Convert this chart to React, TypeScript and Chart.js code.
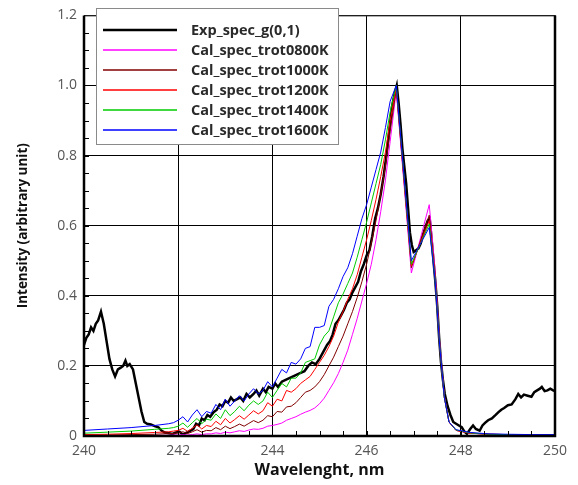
import React, { useEffect, useRef } from "react";
import { Chart, registerables } from "chart.js";

Chart.register(...registerables);

const expX = [240.0, 240.05, 240.1, 240.15, 240.2, 240.25, 240.3, 240.36, 240.42, 240.48, 240.54, 240.6, 240.66, 240.72, 240.78, 240.83, 240.88, 240.92, 240.97, 241.04, 241.1, 241.16, 241.22, 241.28, 241.34, 241.42, 241.5, 241.58, 241.65, 241.72, 241.8, 241.88, 241.95, 242.03, 242.1, 242.18, 242.26, 242.32, 242.38, 242.44, 242.5, 242.56, 242.62, 242.68, 242.75, 242.82, 242.88, 242.94, 243.0, 243.06, 243.12, 243.18, 243.25, 243.32, 243.38, 243.45, 243.52, 243.6, 243.66, 243.72, 243.8, 243.86, 243.92, 244.0, 244.06, 244.12, 244.2, 244.28, 244.36, 244.44, 244.52, 244.6, 244.68, 244.76, 244.84, 244.92, 245.0, 245.08, 245.16, 245.22, 245.28, 245.34, 245.4, 245.46, 245.52, 245.58, 245.64, 245.7, 245.76, 245.82, 245.88, 245.94, 246.0, 246.06, 246.12, 246.18, 246.24, 246.3, 246.36, 246.42, 246.48, 246.54, 246.6, 246.64, 246.68, 246.72, 246.76, 246.8, 246.84, 246.88, 246.92, 246.96, 247.0, 247.05, 247.1, 247.15, 247.2, 247.26, 247.3, 247.34, 247.38, 247.42, 247.46, 247.5, 247.54, 247.58, 247.62, 247.66, 247.72, 247.78, 247.84, 247.9, 247.96, 248.02, 248.08, 248.13, 248.2, 248.26, 248.32, 248.4, 248.46, 248.52, 248.58, 248.66, 248.74, 248.8, 248.86, 248.92, 249.0, 249.08, 249.16, 249.22, 249.28, 249.34, 249.42, 249.5, 249.56, 249.62, 249.68, 249.72, 249.78, 249.84, 249.9, 249.96, 250.0];
const expY = [0.26, 0.28, 0.29, 0.31, 0.3, 0.32, 0.33, 0.355, 0.32, 0.27, 0.22, 0.19, 0.17, 0.19, 0.195, 0.2, 0.215, 0.2, 0.205, 0.19, 0.15, 0.11, 0.07, 0.04, 0.035, 0.033, 0.028, 0.025, 0.015, 0.01, 0.008, 0.006, 0.01, 0.012, 0.004, 0.01, 0.015, 0.02, 0.035, 0.03, 0.05, 0.045, 0.06, 0.055, 0.068, 0.075, 0.09, 0.085, 0.1, 0.095, 0.11, 0.1, 0.105, 0.11, 0.1, 0.12, 0.11, 0.12, 0.13, 0.115, 0.135, 0.125, 0.14, 0.135, 0.15, 0.14, 0.155, 0.16, 0.165, 0.17, 0.175, 0.18, 0.185, 0.2, 0.21, 0.205, 0.22, 0.24, 0.26, 0.27, 0.29, 0.32, 0.33, 0.345, 0.36, 0.38, 0.39, 0.41, 0.425, 0.44, 0.47, 0.49, 0.515, 0.53, 0.57, 0.62, 0.65, 0.69, 0.74, 0.8, 0.87, 0.94, 0.98, 1.0, 0.95, 0.89, 0.82, 0.77, 0.72, 0.65, 0.58, 0.545, 0.525, 0.53, 0.535, 0.55, 0.575, 0.6, 0.615, 0.62, 0.56, 0.5, 0.44, 0.37, 0.28, 0.21, 0.16, 0.12, 0.085, 0.06, 0.04, 0.035, 0.03, 0.025, 0.012, 0.006, 0.02, 0.03, 0.02, 0.015, 0.03, 0.038, 0.045, 0.05, 0.06, 0.068, 0.075, 0.08, 0.088, 0.09, 0.105, 0.12, 0.11, 0.118, 0.115, 0.112, 0.125, 0.13, 0.135, 0.14, 0.128, 0.13, 0.135, 0.13, 0.128];

const calX = [240.0, 240.5, 241.0, 241.5, 241.8, 241.9, 242.0, 242.1, 242.2, 242.3, 242.4, 242.5, 242.6, 242.7, 242.8, 242.9, 243.0, 243.1, 243.2, 243.3, 243.4, 243.5, 243.6, 243.7, 243.8, 243.9, 244.0, 244.1, 244.2, 244.3, 244.4, 244.5, 244.6, 244.7, 244.8, 244.9, 245.0, 245.1, 245.2, 245.3, 245.4, 245.5, 245.6, 245.7, 245.8, 245.9, 246.0, 246.1, 246.2, 246.3, 246.4, 246.5, 246.63, 246.95, 247.33, 247.45, 247.55, 247.65, 247.75, 247.9, 248.2, 248.6, 249.0, 249.5, 250.0];

const cal0800 = [0.0, 0.001, 0.001, 0.002, 0.002, 0.003, 0.003, 0.004, 0.003, 0.004, 0.006, 0.004, 0.006, 0.006, 0.009, 0.007, 0.011, 0.009, 0.012, 0.015, 0.013, 0.017, 0.02, 0.019, 0.022, 0.028, 0.03, 0.033, 0.037, 0.045, 0.05, 0.055, 0.062, 0.068, 0.073, 0.08, 0.092, 0.108, 0.13, 0.152, 0.178, 0.21, 0.245, 0.29, 0.335, 0.385, 0.435, 0.49, 0.56, 0.64, 0.73, 0.84, 0.985, 0.465, 0.66, 0.48, 0.27, 0.115, 0.04, 0.016, 0.008, 0.005, 0.004, 0.003, 0.003];
const cal1000 = [0.002, 0.003, 0.004, 0.005, 0.007, 0.007, 0.009, 0.012, 0.007, 0.012, 0.018, 0.011, 0.016, 0.015, 0.024, 0.018, 0.028, 0.021, 0.027, 0.034, 0.028, 0.036, 0.044, 0.038, 0.045, 0.058, 0.055, 0.07, 0.068, 0.083, 0.085, 0.095, 0.11, 0.125, 0.13, 0.14, 0.155, 0.175, 0.2, 0.225, 0.255, 0.285, 0.32, 0.355, 0.395, 0.44, 0.49, 0.55, 0.615, 0.69, 0.77, 0.87, 0.99, 0.48, 0.63, 0.465, 0.26, 0.11, 0.04, 0.016, 0.008, 0.005, 0.004, 0.003, 0.003];
const cal1200 = [0.004, 0.005, 0.007, 0.01, 0.012, 0.014, 0.016, 0.022, 0.013, 0.022, 0.032, 0.02, 0.03, 0.027, 0.042, 0.032, 0.05, 0.037, 0.047, 0.058, 0.048, 0.06, 0.072, 0.063, 0.072, 0.095, 0.085, 0.105, 0.1, 0.13, 0.125, 0.135, 0.15, 0.16, 0.17, 0.19, 0.21, 0.23, 0.255, 0.285, 0.325, 0.355, 0.39, 0.42, 0.46, 0.51, 0.56, 0.615, 0.675, 0.74, 0.81, 0.9, 0.995, 0.485, 0.615, 0.46, 0.26, 0.11, 0.04, 0.016, 0.008, 0.005, 0.004, 0.003, 0.003];
const cal1400 = [0.008, 0.011, 0.014, 0.019, 0.022, 0.024, 0.028, 0.037, 0.025, 0.038, 0.05, 0.035, 0.048, 0.045, 0.063, 0.05, 0.075, 0.058, 0.07, 0.085, 0.072, 0.088, 0.1, 0.09, 0.1, 0.125, 0.11, 0.13, 0.15, 0.14, 0.165, 0.165, 0.18, 0.21, 0.215, 0.22, 0.26, 0.285, 0.3, 0.34, 0.38, 0.405, 0.435, 0.465, 0.51, 0.56, 0.61, 0.665, 0.72, 0.775, 0.845, 0.925, 1.0, 0.49, 0.605, 0.455, 0.26, 0.11, 0.04, 0.017, 0.009, 0.005, 0.004, 0.003, 0.003];
const cal1600 = [0.016, 0.02, 0.024, 0.03, 0.035, 0.038, 0.045, 0.055, 0.04, 0.06, 0.075, 0.055, 0.07, 0.065, 0.09, 0.075, 0.105, 0.085, 0.1, 0.115, 0.1, 0.12, 0.135, 0.12, 0.13, 0.155, 0.14, 0.165, 0.19, 0.18, 0.21, 0.205, 0.22, 0.25, 0.255, 0.31, 0.31, 0.315, 0.37, 0.39, 0.42, 0.455, 0.48, 0.52, 0.57, 0.62, 0.66, 0.71, 0.76, 0.81, 0.88, 0.955, 1.0, 0.5, 0.595, 0.45, 0.26, 0.11, 0.04, 0.018, 0.01, 0.006, 0.005, 0.004, 0.004];

const seriesLabels = ["Exp_spec_g(0,1)", "Cal_spec_trot0800K", "Cal_spec_trot1000K", "Cal_spec_trot1200K", "Cal_spec_trot1400K", "Cal_spec_trot1600K"];
const seriesColors = ["#000000", "#ff00ff", "#800000", "#ff0000", "#00cc00", "#0000ff"];
const xTickValues = [240, 242, 244, 246, 248, 250];

const toPoints = (xs: number[], ys: number[]) => xs.map((x, i) => ({ x, y: ys[i] }));

const framePlugin = {
  id: "frame",
  afterDraw(chart: any) {
    const { ctx, chartArea, scales } = chart;
    const { left, right, top, bottom } = chartArea;
    ctx.save();
    ctx.strokeStyle = "#000";
    ctx.lineWidth = 1;
    ctx.beginPath();
    for (let v = 240; v <= 250.001; v += 0.5) {
      const px = Math.round(scales.x.getPixelForValue(v)) + 0.5;
      ctx.moveTo(px, bottom);
      ctx.lineTo(px, bottom - 5);
    }
    for (let v = 0; v <= 1.2001; v += 0.05) {
      const py = Math.round(scales.y.getPixelForValue(v)) + 0.5;
      ctx.moveTo(left, py);
      ctx.lineTo(left + 5, py);
    }
    ctx.stroke();
    ctx.lineWidth = 1;
    ctx.strokeStyle = "#333";
    ctx.beginPath();
    ctx.moveTo(left, top + 0.5);
    ctx.lineTo(right, top + 0.5);
    ctx.stroke();
    ctx.strokeStyle = "#000";
    ctx.lineWidth = 2.5;
    ctx.beginPath();
    ctx.moveTo(left, top);
    ctx.lineTo(left, bottom);
    ctx.lineTo(right, bottom);
    ctx.lineTo(right, top);
    ctx.stroke();

    const bx = 96.5, by = 8.5, bw = 242, bh = 136;
    ctx.fillStyle = "#fff";
    ctx.fillRect(bx, by, bw, bh);
    ctx.strokeStyle = "#8a8a8a";
    ctx.lineWidth = 1;
    ctx.strokeRect(bx, by, bw, bh);
    ctx.font = "bold 14.5px 'Open Sans'";
    ctx.textBaseline = "middle";
    ctx.textAlign = "left";
    chart.data.datasets.forEach((ds: any, i: number) => {
      const y = 30 + i * 20;
      ctx.strokeStyle = ds.borderColor;
      ctx.lineWidth = i === 0 ? 2.5 : 1.5;
      ctx.beginPath();
      ctx.moveTo(103, y);
      ctx.lineTo(177, y);
      ctx.stroke();
      ctx.fillStyle = "#2a2a2a";
      ctx.fillText(ds.label, 191, y + 1);
    });
    ctx.restore();
  },
};

export default function App() {
  const ref = useRef<HTMLCanvasElement>(null);
  useEffect(() => {
    if (!ref.current) return;
    const calSeries = [cal0800, cal1000, cal1200, cal1400, cal1600];
    const datasets: any[] = [
      {
        label: seriesLabels[0],
        data: toPoints(expX, expY),
        borderColor: seriesColors[0],
        borderWidth: 2.5,
        pointRadius: 0,
        tension: 0,
        order: 10,
      },
      ...calSeries.map((ys, i) => ({
        label: seriesLabels[i + 1],
        data: toPoints(calX, ys),
        borderColor: seriesColors[i + 1],
        borderWidth: 1,
        pointRadius: 0,
        tension: 0,
        order: 5 - i,
      })),
    ];
    const chart = new Chart(ref.current, {
      type: "line",
      data: { datasets },
      options: {
        animation: false,
        responsive: false,
        maintainAspectRatio: false,
        layout: { padding: { top: 6, right: 23, left: 0, bottom: 0 } },
        plugins: { legend: { display: false }, tooltip: { enabled: false } },
        scales: {
          x: {
            type: "linear",
            min: 240,
            max: 250,
            afterFit: (s: any) => { s.height = 49; },
            afterBuildTicks: (s: any) => { s.ticks = xTickValues.map((v) => ({ value: v })); },
            grid: { color: "#000", lineWidth: 1, drawTicks: false },
            border: { display: false },
            ticks: { color: "#555", padding: 7, font: { family: "'Open Sans'", size: 14 }, maxRotation: 0 },
            title: {
              display: true,
              text: "Wavelenght, nm",
              color: "#111",
              font: { family: "'Open Sans'", size: 16, weight: "bold" },
              padding: { top: 0, bottom: 5 },
            },
          },
          y: {
            type: "linear",
            min: 0,
            max: 1.2,
            afterFit: (s: any) => { s.width = 84; },
            ticks: { stepSize: 0.2, color: "#555", padding: 7, font: { family: "'Open Sans'", size: 14 } },
            grid: { color: "#000", lineWidth: 1, drawTicks: false },
            border: { display: false },
            title: {
              display: true,
              text: "Intensity (arbitrary unit)",
              color: "#111",
              font: { family: "'Open Sans'", size: 13.5, weight: "bold" },
              padding: { top: 15, bottom: 0 },
            },
          },
        },
      },
      plugins: [framePlugin],
    });
    return () => chart.destroy();
  }, []);
  return (
    <div style={{ position: "fixed", left: 0, top: 0, width: 578, height: 485, background: "#fff" }}>
      <canvas ref={ref} width={578} height={485} style={{ width: 578, height: 485, display: "block" }} />
    </div>
  );
}
